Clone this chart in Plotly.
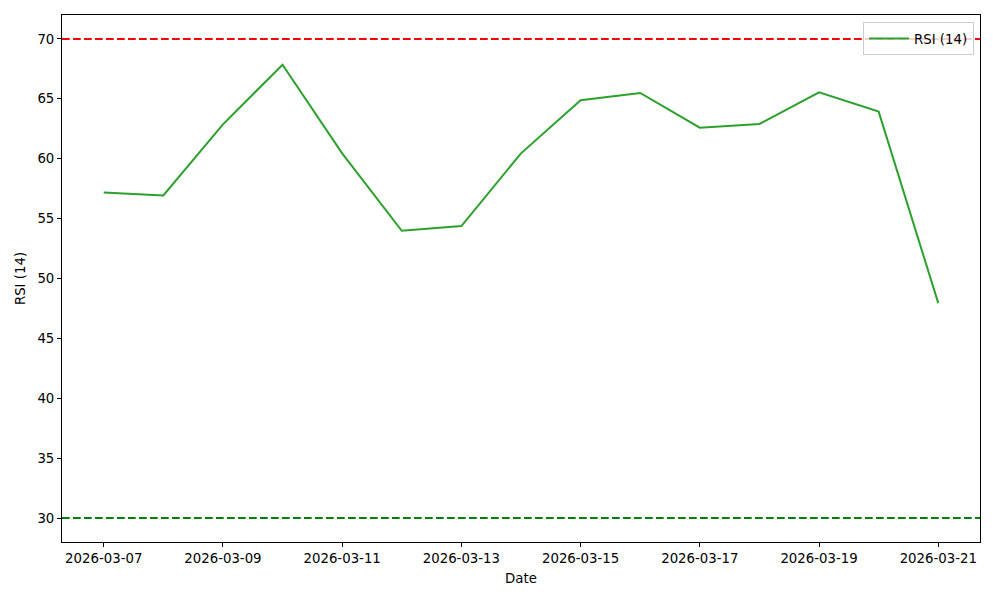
import plotly.graph_objects as go

dates = ["2026-03-07", "2026-03-08", "2026-03-09", "2026-03-10", "2026-03-11",
         "2026-03-12", "2026-03-13", "2026-03-14", "2026-03-15", "2026-03-16",
         "2026-03-17", "2026-03-18", "2026-03-19", "2026-03-20", "2026-03-21"]
rsi = [57.19, 56.94, 62.87, 67.85, 60.45, 53.98, 54.38, 60.45, 64.88, 65.49,
       62.59, 62.90, 65.55, 63.93, 47.94]
overbought = 70
oversold = 30
y_ticks = [30, 35, 40, 45, 50, 55, 60, 65, 70]

font = dict(family="DejaVu Sans", size=13.3, color="black")

fig = go.Figure()
fig.add_trace(go.Scatter(x=dates, y=rsi, mode="lines", name="RSI (14)",
                         line=dict(color="#2ca02c", width=2)))

fig.add_hline(y=overbought, line=dict(color="red", width=2, dash="7.7px,3.3px"))
fig.add_hline(y=oversold, line=dict(color="green", width=2, dash="7.7px,3.3px"))

fig.update_layout(
    width=1000, height=600,
    margin=dict(l=54, r=28, t=7, b=66),
    paper_bgcolor="white", plot_bgcolor="white",
    font=font,
    showlegend=True,
    legend=dict(x=0.9935, y=0.986, xanchor="right", yanchor="top",
                bgcolor="rgba(255,255,255,0.8)", bordercolor="#cccccc", borderwidth=1,
                itemwidth=40,
                font=dict(family="DejaVu Sans", size=13.3)),
    xaxis=dict(
        range=["2026-03-06 07:12", "2026-03-21 16:48"],
        tick0="2026-03-07", dtick=2 * 86400000, tickformat="%Y-%m-%d",
        showgrid=False, zeroline=False,
        showline=True, linecolor="black", linewidth=1, mirror=True,
        ticks="outside", ticklen=4, tickcolor="black",
        title=dict(text="Date", standoff=8, font=font),
    ),
    yaxis=dict(
        range=[28, 72], tickvals=y_ticks,
        showgrid=False, zeroline=False,
        showline=True, linecolor="black", linewidth=1, mirror=True,
        ticks="outside", ticklen=4, tickcolor="black",
        title=dict(text="RSI (14)", standoff=8, font=font),
    ),
)

fig.write_html("out.html")
